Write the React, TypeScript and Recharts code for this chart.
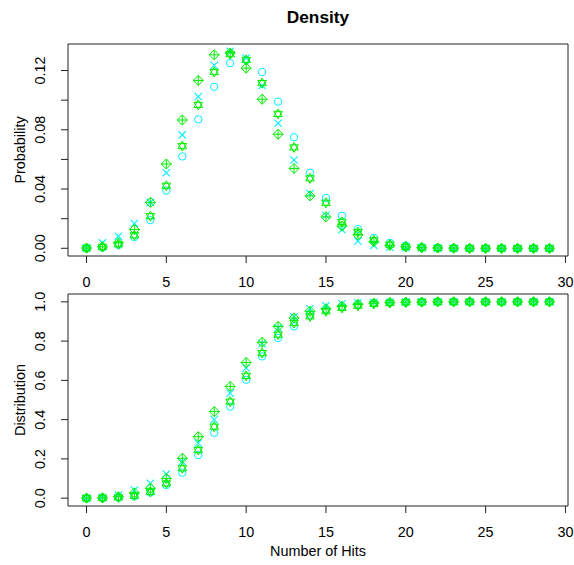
import { ScatterChart, Scatter, XAxis, YAxis, ReferenceArea } from 'recharts';

const hits = [
  0, 1, 2, 3, 4, 5, 6, 7, 8, 9, 10, 11, 12, 13, 14, 15, 16, 17, 18, 19, 20, 21, 22, 23, 24, 25, 26, 27, 28, 29,
];

// density panel, one array per marker type
const densCircle = [
  0.0001, 0.0005, 0.0023, 0.0076, 0.019, 0.039, 0.062, 0.087, 0.109, 0.125, 0.127, 0.119, 0.099, 0.075, 0.051,
  0.034, 0.022, 0.013, 0.007, 0.0037, 0.0019, 0.0009, 0.0004, 0.0002, 0.0001, 0, 0, 0, 0, 0,
];
const densCross = [
  0.0003, 0.0036, 0.0081, 0.0167, 0.031, 0.051, 0.0765, 0.1024, 0.1235, 0.1329, 0.1284, 0.1099, 0.0844, 0.0596,
  0.037, 0.0223, 0.0125, 0.0048, 0.002, 0.0008, 0.0004, 0.0002, 0.0001, 0, 0, 0, 0, 0, 0, 0,
];
const densStar = [
  0.0001, 0.0009, 0.0027, 0.0088, 0.0217, 0.0422, 0.069, 0.0968, 0.119, 0.131, 0.1272, 0.1115, 0.0907, 0.0681,
  0.0472, 0.0307, 0.0178, 0.011, 0.0054, 0.0025, 0.001, 0.0005, 0.0002, 0.0001, 0, 0, 0, 0, 0, 0,
];
const densDiamond = [
  0.0002, 0.001, 0.0036, 0.0127, 0.031, 0.0569, 0.0866, 0.1133, 0.1306, 0.1318, 0.1216, 0.1006, 0.077, 0.0539,
  0.0354, 0.0212, 0.015, 0.009, 0.0045, 0.002, 0.001, 0.0004, 0.0002, 0.0001, 0, 0, 0, 0, 0, 0,
];

// distribution panel
const distCircle = [
  0, 0.0005, 0.003, 0.01, 0.029, 0.067, 0.13, 0.22, 0.333, 0.466, 0.603, 0.722, 0.816, 0.875, 0.935, 0.96, 0.973,
  0.986, 0.993, 0.997, 0.998, 0.999, 1, 1, 1, 1, 1, 1, 1, 1,
];
const distCross = [
  0.0003, 0.004, 0.015, 0.041, 0.075, 0.123, 0.186, 0.28, 0.4, 0.535, 0.663, 0.787, 0.867, 0.923, 0.965, 0.98,
  0.99, 0.995, 0.998, 0.999, 1, 1, 1, 1, 1, 1, 1, 1, 1, 1,
];
const distStar = [
  0.0001, 0.001, 0.004, 0.012, 0.032, 0.075, 0.152, 0.245, 0.364, 0.492, 0.623, 0.739, 0.833, 0.892, 0.926, 0.952,
  0.969, 0.98, 0.99, 0.995, 0.998, 0.999, 1, 1, 1, 1, 1, 1, 1, 1,
];
const distDiamond = [
  0.0002, 0.0012, 0.007, 0.027, 0.05, 0.1, 0.203, 0.313, 0.441, 0.569, 0.691, 0.794, 0.875, 0.918, 0.952, 0.965,
  0.978, 0.987, 0.993, 0.996, 0.998, 0.999, 1, 1, 1, 1, 1, 1, 1, 1,
];

const xTicks = [0, 5, 10, 15, 20, 25, 30];
const densTicks = [0, 0.02, 0.04, 0.06, 0.08, 0.1, 0.12];
const densLabels = ['0.00', '', '0.04', '', '0.08', '', '0.12'];
const distTicks = [0, 0.2, 0.4, 0.6, 0.8, 1];
const distLabels = ['0.0', '0.2', '0.4', '0.6', '0.8', '1.0'];

const CYAN = '#00F0FF';
const GREEN = '#00EE00';
const FONT = '"Liberation Sans", Arial, sans-serif';
const FS = 14.4;
const X_DOMAIN: [number, number] = [-1.16, 30.16];

const toPoints = (vals: number[]) => hits.map((h, i) => ({ x: h, y: vals[i] }));

const CircleMark = ({ cx, cy }: any) => <circle cx={cx} cy={cy} r={3.7} fill="none" stroke={CYAN} strokeWidth={1} />;

const CrossMark = ({ cx, cy }: any) => (
  <g stroke={CYAN} strokeWidth={1.1}>
    <line x1={cx - 3.7} y1={cy - 3.7} x2={cx + 3.7} y2={cy + 3.7} />
    <line x1={cx - 3.7} y1={cy + 3.7} x2={cx + 3.7} y2={cy - 3.7} />
  </g>
);

const StarMark = ({ cx, cy }: any) => (
  <g stroke={GREEN} strokeWidth={1} fill="none">
    <polygon points={`${cx},${cy - 5} ${cx - 4.3},${cy + 2.6} ${cx + 4.3},${cy + 2.6}`} />
    <polygon points={`${cx},${cy + 5} ${cx - 4.3},${cy - 2.6} ${cx + 4.3},${cy - 2.6}`} />
  </g>
);

const DiamondMark = ({ cx, cy }: any) => (
  <g stroke={GREEN} strokeWidth={1} fill="none">
    <polygon points={`${cx},${cy - 5} ${cx + 5},${cy} ${cx},${cy + 5} ${cx - 5},${cy}`} />
    <line x1={cx - 5} y1={cy} x2={cx + 5} y2={cy} />
    <line x1={cx} y1={cy - 5} x2={cx} y2={cy + 5} />
  </g>
);

const XTick = ({ x, y, payload }: any) => (
  <text x={x} y={y + 22} textAnchor="middle" fontSize={FS} fontFamily={FONT} fill="#000">
    {payload.value}
  </text>
);

const makeYTick = (ticks: number[], labels: string[]) => ({ x, y, payload }: any) => {
  const i = ticks.findIndex((t) => Math.abs(t - payload.value) < 1e-9);
  const tx = x - 13.5;
  return (
    <text x={tx} y={y} transform={`rotate(-90, ${tx}, ${y})`} textAnchor="middle" fontSize={FS} fontFamily={FONT} fill="#000">
      {i >= 0 ? labels[i] : ''}
    </text>
  );
};

const yLabel = (text: string) => (props: any) => {
  const vb = props.viewBox;
  const cy = vb.y + vb.height / 2;
  return (
    <text x={25} y={cy} transform={`rotate(-90, 25, ${cy})`} textAnchor="middle" fontSize={FS} fontFamily={FONT} fill="#000">
      {text}
    </text>
  );
};

const xLabel = (props: any) => {
  const vb = props.viewBox;
  return (
    <text x={vb.x + vb.width / 2} y={vb.y + 50} textAnchor="middle" fontSize={FS} fontFamily={FONT} fill="#000">
      Number of Hits
    </text>
  );
};

function Panel({
  series,
  yDomain,
  yTicks,
  yLabels,
  ylab,
  height,
  top,
  xAxisHeight,
  withXLabel,
}: {
  series: number[][];
  yDomain: [number, number];
  yTicks: number[];
  yLabels: string[];
  ylab: string;
  height: number;
  top: number;
  xAxisHeight: number;
  withXLabel: boolean;
}) {
  const shapes = [CircleMark, CrossMark, StarMark, DiamondMark];
  return (
    <ScatterChart width={574} height={height} margin={{ top, right: 6, bottom: 0, left: 0 }}>
      <XAxis
        type="number"
        dataKey="x"
        domain={X_DOMAIN}
        ticks={xTicks}
        allowDataOverflow
        axisLine={false}
        tickLine={{ stroke: '#222' }}
        tickSize={7}
        tick={<XTick />}
        height={xAxisHeight}
        label={withXLabel ? xLabel : undefined}
      />
      <YAxis
        type="number"
        dataKey="y"
        domain={yDomain}
        ticks={yTicks}
        allowDataOverflow
        axisLine={false}
        tickLine={{ stroke: '#222' }}
        tickSize={7}
        tick={makeYTick(yTicks, yLabels)}
        width={68}
        label={yLabel(ylab)}
      />
      <ReferenceArea
        x1={X_DOMAIN[0]}
        x2={X_DOMAIN[1]}
        y1={yDomain[0]}
        y2={yDomain[1]}
        ifOverflow="visible"
        fill="none"
        stroke="#222"
        strokeWidth={1}
      />
      {series.map((vals, i) => (
        <Scatter key={i} data={toPoints(vals)} shape={shapes[i]} isAnimationActive={false} />
      ))}
    </ScatterChart>
  );
}

export default function App() {
  return (
    <div style={{ position: 'fixed', left: 0, top: 0, width: 574, height: 565, background: '#fff' }}>
      <svg width={574} height={30} style={{ position: 'absolute', left: 0, top: 0 }}>
        <text x={318} y={23} textAnchor="middle" fontSize={17.3} fontWeight="bold" fontFamily={FONT} fill="#000">
          Density
        </text>
      </svg>
      <div style={{ position: 'absolute', left: 0, top: 0 }}>
        <Panel
          series={[densCircle, densCross, densStar, densDiamond]}
          yDomain={[-0.0052, 0.1379]}
          yTicks={densTicks}
          yLabels={densLabels}
          ylab="Probability"
          height={290}
          top={44}
          xAxisHeight={34}
          withXLabel={false}
        />
      </div>
      <div style={{ position: 'absolute', left: 0, top: 260 }}>
        <Panel
          series={[distCircle, distCross, distStar, distDiamond]}
          yDomain={[-0.04, 1.04]}
          yTicks={distTicks}
          yLabels={distLabels}
          ylab="Distribution"
          height={305}
          top={34}
          xAxisHeight={59}
          withXLabel
        />
      </div>
    </div>
  );
}
